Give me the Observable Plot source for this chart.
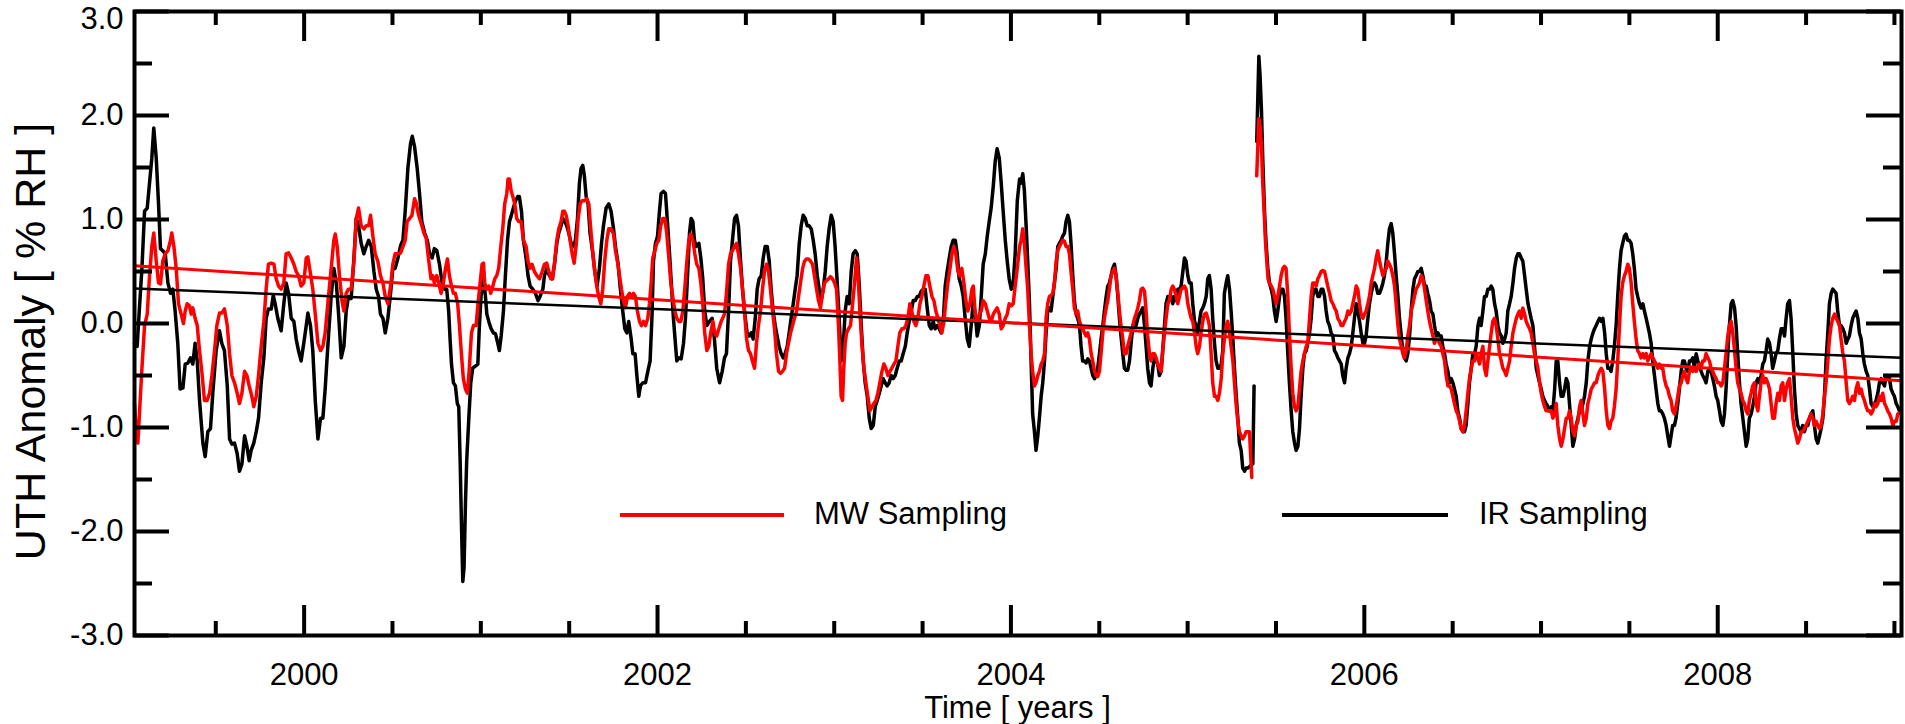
<!DOCTYPE html>
<html>
<head>
<meta charset="utf-8">
<script src="https://cdn.jsdelivr.net/npm/d3@7"></script>
<script src="https://cdn.jsdelivr.net/npm/@observablehq/plot@0.6"></script>
<style>
  html, body { margin: 0; padding: 0; background: #fff; }
  #wrap { position: relative; width: 1905px; height: 724px; overflow: hidden; font-family: "Liberation Sans", Arial, Helvetica, sans-serif; }
  .lg-line { position: absolute; height: 4px; }
  .lg-text { position: absolute; font-size: 31px; line-height: 31px; color: #000; white-space: nowrap; }
  #xtitle { position: absolute; left: 134px; width: 1767px; top: 697px; height: 22px; font-size: 31px; line-height: 22px; text-align: center; color: #000; white-space: nowrap; }
</style>
</head>
<body>
<div id="wrap"></div>
<script>
// ---------- data (decimal year, UTH anomaly % RH) ----------
const irSampling = [
[1999.040,-0.19],[1999.055,-0.22],[1999.068,0.15],[1999.082,0.53],[1999.097,1.08],[1999.112,1.11],[1999.125,1.35],[1999.138,1.59],[1999.149,1.88],[1999.163,1.59],[1999.176,1.15],[1999.187,0.72],[1999.200,0.70],[1999.214,0.67],[1999.229,0.39],[1999.244,0.29],[1999.257,0.33],[1999.270,0.12],[1999.285,-0.19],[1999.298,-0.63],[1999.314,-0.62],[1999.327,-0.39],[1999.342,-0.38],[1999.357,-0.33],[1999.370,-0.39],[1999.383,-0.19],[1999.395,-0.36],[1999.408,-0.74],[1999.427,-1.15],[1999.440,-1.28],[1999.455,-1.04],[1999.470,-1.01],[1999.483,-0.67],[1999.502,-0.26],[1999.521,-0.07],[1999.534,-0.19],[1999.549,-0.26],[1999.565,-0.60],[1999.578,-1.11],[1999.591,-1.16],[1999.606,-1.15],[1999.621,-1.25],[1999.634,-1.42],[1999.648,-1.35],[1999.663,-1.08],[1999.676,-1.18],[1999.689,-1.32],[1999.700,-1.22],[1999.715,-1.15],[1999.729,-1.04],[1999.742,-0.91],[1999.757,-0.57],[1999.772,-0.33],[1999.785,0.05],[1999.798,0.14],[1999.814,0.14],[1999.825,0.27],[1999.836,0.19],[1999.851,0.05],[1999.870,-0.07],[1999.885,0.19],[1999.898,0.39],[1999.912,0.29],[1999.927,0.05],[1999.942,0.02],[1999.955,-0.15],[1999.968,-0.26],[1999.983,-0.36],[1999.998,-0.19],[2000.012,-0.02],[2000.021,0.10],[2000.036,-0.02],[2000.049,-0.26],[2000.063,-0.74],[2000.078,-1.11],[2000.093,-0.91],[2000.106,-0.91],[2000.119,-0.63],[2000.134,-0.22],[2000.153,0.26],[2000.168,0.53],[2000.182,0.39],[2000.195,0.09],[2000.210,-0.33],[2000.225,-0.22],[2000.238,0.12],[2000.251,0.26],[2000.266,0.24],[2000.282,0.63],[2000.295,1.01],[2000.308,0.94],[2000.323,0.77],[2000.338,0.67],[2000.351,0.74],[2000.365,0.80],[2000.380,0.74],[2000.395,0.50],[2000.408,0.33],[2000.421,0.26],[2000.432,0.09],[2000.446,0.05],[2000.459,-0.09],[2000.474,0.05],[2000.489,0.29],[2000.502,0.53],[2000.515,0.53],[2000.531,0.63],[2000.546,0.75],[2000.559,0.80],[2000.572,1.08],[2000.587,1.49],[2000.602,1.73],[2000.612,1.80],[2000.625,1.70],[2000.640,1.49],[2000.653,1.25],[2000.666,0.98],[2000.682,0.87],[2000.697,0.80],[2000.710,0.67],
[2000.724,0.63],[2000.737,0.72],[2000.751,0.70],[2000.766,0.57],[2000.781,0.39],[2000.794,0.33],[2000.807,0.33],[2000.818,0.12],[2000.826,-0.15],[2000.834,-0.39],[2000.845,-0.57],[2000.856,-0.60],[2000.867,-0.77],[2000.875,-0.80],[2000.883,-1.32],[2000.890,-1.90],[2000.898,-2.48],[2000.905,-2.35],[2000.913,-1.73],[2000.920,-1.32],[2000.932,-0.91],[2000.943,-0.57],[2000.954,-0.43],[2000.969,-0.41],[2000.983,-0.39],[2000.992,-0.02],[2001.001,0.26],[2001.015,0.46],[2001.026,0.26],[2001.034,0.09],[2001.045,0.02],[2001.058,-0.05],[2001.071,-0.09],[2001.083,-0.10],[2001.096,-0.19],[2001.105,-0.26],[2001.115,-0.12],[2001.128,0.12],[2001.139,0.46],[2001.151,0.80],[2001.162,0.98],[2001.171,1.03],[2001.184,1.11],[2001.196,1.18],[2001.209,1.22],[2001.218,1.22],[2001.230,1.08],[2001.241,0.80],[2001.256,0.63],[2001.267,0.46],[2001.279,0.36],[2001.294,0.33],[2001.309,0.29],[2001.324,0.22],[2001.335,0.26],[2001.351,0.33],[2001.360,0.46],[2001.373,0.53],[2001.388,0.46],[2001.403,0.43],[2001.417,0.57],[2001.430,0.77],[2001.441,0.87],[2001.454,0.94],[2001.464,1.01],[2001.473,0.99],[2001.486,0.94],[2001.498,0.87],[2001.511,0.77],[2001.524,0.74],[2001.535,0.80],[2001.547,1.01],[2001.558,1.35],[2001.567,1.49],[2001.577,1.52],[2001.586,1.42],[2001.596,1.22],[2001.607,1.15],[2001.618,0.87],[2001.634,0.67],[2001.645,0.50],[2001.658,0.36],[2001.671,0.53],[2001.683,0.77],[2001.694,0.94],[2001.709,1.11],[2001.724,1.15],[2001.737,1.08],[2001.751,0.91],[2001.762,0.74],[2001.777,0.57],[2001.788,0.36],[2001.803,0.12],[2001.815,-0.05],[2001.826,-0.09],[2001.837,0.02],[2001.851,-0.15],[2001.860,-0.29],[2001.873,-0.29],[2001.883,-0.50],[2001.894,-0.70],[2001.903,-0.60],[2001.917,-0.57],[2001.932,-0.57],[2001.945,-0.46],[2001.958,-0.36],[2001.969,0.09],[2001.977,0.60],[2001.988,0.77],[2002.000,0.84],[2002.011,1.08],[2002.020,1.25],[2002.034,1.27],[2002.045,1.25],[2002.056,0.98],[2002.068,0.67],[2002.079,0.36],[2002.090,0.05],[2002.101,-0.19],[2002.109,-0.36],[2002.120,-0.33],[2002.134,-0.34],[2002.147,-0.19],[2002.158,0.05],[2002.171,0.50],[2002.181,0.87],[2002.190,1.01],[2002.200,0.98],[2002.209,0.80],[2002.218,0.74],[2002.234,0.77],[2002.245,0.63],[2002.256,0.43],[2002.267,0.12],[2002.279,-0.02],[2002.294,0.02],[2002.309,0.05],[2002.322,-0.15],[2002.335,-0.43],[2002.351,-0.57],[2002.366,-0.46],[2002.379,-0.33],
[2002.390,-0.29],[2002.402,0.12],[2002.413,0.60],[2002.424,0.80],[2002.436,1.01],[2002.447,1.04],[2002.458,0.94],[2002.470,0.60],[2002.481,0.33],[2002.492,0.12],[2002.507,-0.09],[2002.519,-0.12],[2002.530,-0.09],[2002.541,-0.15],[2002.553,0.05],[2002.564,0.33],[2002.575,0.43],[2002.587,0.46],[2002.598,0.63],[2002.609,0.74],[2002.621,0.74],[2002.632,0.60],[2002.643,0.33],[2002.654,0.12],[2002.666,-0.02],[2002.677,-0.12],[2002.688,-0.22],[2002.700,-0.29],[2002.711,-0.33],[2002.722,-0.29],[2002.734,-0.22],[2002.745,-0.09],[2002.756,0.05],[2002.768,0.19],[2002.779,0.33],[2002.790,0.46],[2002.802,0.77],[2002.813,0.94],[2002.824,1.04],[2002.836,1.01],[2002.847,0.94],[2002.858,0.94],[2002.870,0.91],[2002.881,0.80],[2002.892,0.67],[2002.904,0.46],[2002.915,0.33],[2002.926,0.22],[2002.938,0.33],[2002.949,0.50],[2002.960,0.74],[2002.971,0.91],[2002.983,1.04],[2002.994,0.98],[2003.005,0.74],[2003.017,0.39],[2003.028,0.05],[2003.039,-0.36],[2003.051,-0.22],[2003.062,0.12],[2003.073,0.26],[2003.085,0.19],[2003.096,0.50],[2003.107,0.67],[2003.119,0.70],[2003.130,0.67],[2003.141,0.39],[2003.153,-0.02],[2003.164,-0.36],[2003.175,-0.57],[2003.187,-0.70],[2003.198,-0.91],[2003.209,-1.01],[2003.221,-0.98],[2003.232,-0.80],[2003.243,-0.74],[2003.255,-0.67],[2003.266,-0.60],[2003.277,-0.53],[2003.288,-0.57],[2003.300,-0.60],[2003.311,-0.57],[2003.322,-0.50],[2003.334,-0.53],[2003.345,-0.50],[2003.356,-0.43],[2003.368,-0.36],[2003.379,-0.36],[2003.390,-0.29],[2003.402,-0.22],[2003.413,-0.09],[2003.424,0.02],[2003.436,0.12],[2003.447,0.22],[2003.458,0.22],[2003.470,0.26],[2003.481,0.26],[2003.492,0.31],[2003.504,0.33],[2003.515,0.33],[2003.526,0.15],[2003.538,-0.02],[2003.549,-0.05],[2003.560,0.02],[2003.571,-0.05],[2003.583,-0.02],[2003.594,-0.05],[2003.605,-0.09],[2003.617,0.02],[2003.628,0.36],[2003.639,0.50],[2003.651,0.63],[2003.662,0.74],[2003.673,0.80],[2003.685,0.80],[2003.696,0.67],[2003.707,0.43],[2003.719,0.36],[2003.730,0.26],[2003.741,0.05],[2003.753,-0.15],[2003.764,-0.22],[2003.775,-0.02],[2003.787,0.22],[2003.798,0.09],[2003.809,-0.12],[2003.821,-0.02],[2003.832,0.26],[2003.843,0.57],[2003.855,0.67],[2003.866,0.84],[2003.877,0.98],[2003.888,1.11],[2003.900,1.32],[2003.911,1.56],[2003.922,1.68],[2003.934,1.59],[2003.945,1.35],[2003.956,1.08],[2003.968,0.80],[2003.979,0.60],[2003.990,0.43],[2004.002,0.33],[2004.013,0.39],[2004.024,0.67],[2004.036,1.18],[2004.049,1.39],
[2004.057,1.35],[2004.067,1.44],[2004.076,1.28],[2004.086,0.94],[2004.095,0.60],[2004.105,0.19],[2004.114,-0.36],[2004.123,-0.87],[2004.133,-1.04],[2004.142,-1.22],[2004.152,-1.08],[2004.161,-0.91],[2004.171,-0.70],[2004.180,-0.57],[2004.190,-0.36],[2004.199,-0.09],[2004.208,0.12],[2004.218,0.15],[2004.227,0.12],[2004.237,0.26],[2004.246,0.39],[2004.256,0.53],[2004.265,0.74],[2004.274,0.77],[2004.284,0.80],[2004.293,0.84],[2004.303,0.87],[2004.312,0.98],[2004.322,1.04],[2004.331,0.98],[2004.340,0.77],[2004.350,0.46],[2004.359,0.22],[2004.369,0.09],[2004.378,0.05],[2004.388,-0.02],[2004.397,-0.22],[2004.406,-0.36],[2004.416,-0.36],[2004.425,-0.38],[2004.435,-0.34],[2004.444,-0.36],[2004.454,-0.43],[2004.463,-0.50],[2004.473,-0.53],[2004.482,-0.50],[2004.491,-0.43],[2004.501,-0.29],[2004.510,-0.15],[2004.520,-0.02],[2004.529,0.12],[2004.539,0.26],[2004.548,0.36],[2004.557,0.39],[2004.567,0.46],[2004.576,0.53],[2004.586,0.57],[2004.595,0.46],[2004.605,0.26],[2004.614,0.05],[2004.623,-0.12],[2004.633,-0.29],[2004.642,-0.43],[2004.652,-0.45],[2004.661,-0.45],[2004.671,-0.36],[2004.680,-0.19],[2004.690,-0.02],[2004.699,0.02],[2004.708,-0.02],[2004.718,0.05],[2004.727,0.09],[2004.737,0.12],[2004.746,0.15],[2004.756,-0.02],[2004.765,-0.22],[2004.774,-0.43],[2004.784,-0.57],[2004.793,-0.60],[2004.803,-0.43],[2004.812,-0.33],[2004.822,-0.36],[2004.831,-0.39],[2004.840,-0.50],[2004.850,-0.46],[2004.859,-0.26],[2004.869,-0.02],[2004.878,0.19],[2004.888,0.26],[2004.897,0.22],[2004.907,0.26],[2004.916,0.19],[2004.925,0.26],[2004.935,0.22],[2004.944,0.33],[2004.954,0.33],[2004.963,0.36],[2004.973,0.50],[2004.982,0.63],[2004.991,0.60],[2005.001,0.46],[2005.010,0.39],[2005.020,0.39],[2005.029,0.19],[2005.039,0.02],[2005.048,-0.02],[2005.057,-0.09],[2005.067,0.02],[2005.076,0.12],[2005.086,0.15],[2005.095,0.19],[2005.105,0.26],[2005.114,0.43],[2005.123,0.46],[2005.133,0.33],[2005.142,0.05],[2005.152,-0.19],[2005.161,-0.36],[2005.171,-0.43],[2005.180,-0.43],[2005.190,-0.39],[2005.199,-0.26],[2005.208,0.29],[2005.218,0.39],[2005.227,0.46],[2005.237,0.33],[2005.246,0.12],[2005.256,-0.15],[2005.265,-0.43],[2005.274,-0.67],[2005.284,-0.91],[2005.293,-1.15],[2005.303,-1.22],[2005.312,-1.39],[2005.322,-1.42],[2005.331,-1.39],[2005.340,-1.39],[2005.354,-1.37],[2005.369,-1.35],[2005.376,-0.60],
[2005.383,null],
[2005.391,1.75],[2005.403,2.57],[2005.410,2.38],[2005.418,2.04],[2005.425,1.59],[2005.435,1.08],[2005.444,0.77],[2005.454,0.53],[2005.463,0.39],[2005.473,0.33],[2005.482,0.26],[2005.491,0.12],[2005.501,0.02],[2005.510,0.12],[2005.520,0.26],[2005.529,0.33],[2005.539,0.33],[2005.548,0.26],[2005.557,0.05],[2005.567,-0.29],[2005.576,-0.57],[2005.586,-0.84],[2005.595,-1.04],[2005.605,-1.15],[2005.614,-1.22],[2005.624,-1.18],[2005.633,-1.01],[2005.642,-0.70],[2005.652,-0.43],[2005.661,-0.29],[2005.671,-0.26],[2005.680,-0.19],[2005.690,-0.09],[2005.699,0.05],[2005.708,0.26],[2005.718,0.33],
[2005.727,0.33],[2005.737,0.26],[2005.746,0.26],[2005.756,0.33],[2005.765,0.33],[2005.775,0.26],[2005.784,0.12],[2005.793,0.02],[2005.803,-0.02],[2005.812,-0.09],[2005.822,-0.12],[2005.831,-0.26],[2005.841,-0.29],[2005.850,-0.33],[2005.860,-0.36],[2005.869,-0.39],[2005.878,-0.50],[2005.888,-0.57],[2005.897,-0.43],[2005.907,-0.33],[2005.916,-0.29],[2005.926,-0.22],[2005.935,-0.09],[2005.944,0.05],[2005.954,0.19],[2005.963,0.12],[2005.973,0.02],[2005.982,-0.09],[2005.992,-0.19],[2006.001,-0.19],[2006.010,-0.12],[2006.020,0.05],[2006.029,0.19],[2006.039,0.29],[2006.048,0.36],[2006.058,0.39],[2006.067,0.36],[2006.076,0.29],[2006.086,0.29],[2006.095,0.33],[2006.105,0.39],[2006.114,0.46],[2006.124,0.60],[2006.133,0.77],[2006.142,0.91],[2006.152,0.96],[2006.161,0.87],[2006.171,0.67],[2006.180,0.46],[2006.190,0.26],[2006.199,0.05],[2006.209,-0.12],[2006.218,-0.26],[2006.227,-0.33],[2006.237,-0.36],[2006.246,-0.29],[2006.256,-0.12],[2006.265,0.12],[2006.275,0.33],[2006.284,0.43],[2006.293,0.46],[2006.303,0.50],[2006.312,0.50],[2006.322,0.53],[2006.331,0.46],[2006.341,0.36],[2006.350,0.36],[2006.359,0.29],[2006.369,0.22],[2006.378,0.12],[2006.388,0.09],[2006.397,-0.02],[2006.407,-0.12],[2006.416,-0.09],[2006.425,-0.12],[2006.435,-0.12],[2006.444,-0.22],[2006.454,-0.29],[2006.463,-0.39],[2006.473,-0.46],[2006.482,-0.57],[2006.492,-0.53],[2006.501,-0.57],[2006.510,-0.63],[2006.520,-0.70],[2006.529,-0.84],[2006.539,-0.91],[2006.548,-1.01],[2006.558,-1.04],[2006.567,-1.04],[2006.576,-0.98],[2006.586,-0.77],[2006.595,-0.57],[2006.605,-0.43],[2006.614,-0.29],[2006.624,-0.29],[2006.633,-0.22],[2006.643,-0.02],[2006.652,0.05],[2006.661,-0.02],[2006.671,0.12],[2006.680,0.26],[2006.690,0.26],[2006.699,0.33],[2006.709,0.33],[2006.718,0.36],[2006.727,0.33],[2006.737,0.19],[2006.746,0.12],[2006.756,-0.02],[2006.765,-0.09],[2006.775,-0.12],[2006.784,-0.19],[2006.794,-0.15],[2006.803,-0.09],[2006.812,0.12],[2006.822,0.19],[2006.831,0.26],[2006.841,0.39],[2006.850,0.53],[2006.860,0.63],[2006.869,0.67],[2006.878,0.67],[2006.888,0.63],[2006.897,0.60],[2006.907,0.46],[2006.916,0.33],[2006.926,0.19],[2006.935,0.12],[2006.944,0.05],[2006.954,-0.02],[2006.963,-0.22],[2006.973,-0.43],[2006.982,-0.50],[2006.992,-0.57],[2007.001,-0.63],[2007.010,-0.70],[2007.020,-0.74],[2007.029,-0.77],[2007.039,-0.80],[2007.048,-0.84],[2007.058,-0.80],[2007.067,-0.84],[2007.077,-0.63],[2007.086,-0.36],[2007.095,-0.36],[2007.105,-0.57],[2007.114,-0.70],[2007.124,-0.70],[2007.133,-0.63],[2007.143,-0.53],[2007.152,-0.57],[2007.161,-0.77],[2007.171,-0.98],[2007.180,-1.18],[2007.190,-1.11],[2007.199,-0.98],[2007.209,-0.91],[2007.218,-0.84],[2007.227,-0.84],[2007.237,-0.77],[2007.246,-0.70],[2007.256,-0.57],[2007.265,-0.36],[2007.275,-0.22],[2007.284,-0.15],[2007.294,-0.09],[2007.303,-0.05],[2007.312,-0.02],[2007.322,0.02],[2007.331,0.05],[2007.341,0.02],[2007.350,0.05],[2007.360,-0.09],[2007.369,-0.29],[2007.378,-0.43],[2007.388,-0.43],
[2007.396,-0.46],[2007.406,-0.36],[2007.415,-0.22],[2007.425,-0.02],[2007.434,0.26],[2007.444,0.53],[2007.453,0.70],[2007.462,0.77],[2007.472,0.84],[2007.481,0.86],[2007.491,0.80],[2007.500,0.80],[2007.510,0.77],[2007.519,0.67],[2007.528,0.53],[2007.538,0.33],[2007.547,0.26],[2007.557,0.19],[2007.566,0.15],[2007.576,0.19],[2007.585,0.12],[2007.595,0.05],[2007.604,-0.02],[2007.613,-0.09],[2007.623,-0.19],[2007.632,-0.36],[2007.642,-0.50],[2007.651,-0.63],[2007.661,-0.77],[2007.670,-0.84],[2007.679,-0.84],[2007.689,-0.87],[2007.698,-0.91],[2007.708,-0.98],[2007.717,-1.08],[2007.727,-1.18],[2007.736,-1.08],[2007.745,-0.98],[2007.755,-0.98],[2007.764,-0.91],[2007.774,-0.77],[2007.783,-0.63],[2007.793,-0.46],[2007.802,-0.36],[2007.811,-0.36],[2007.821,-0.43],[2007.830,-0.46],[2007.840,-0.36],[2007.849,-0.36],[2007.859,-0.33],[2007.868,-0.43],[2007.878,-0.29],[2007.887,-0.36],[2007.896,-0.39],[2007.906,-0.46],[2007.915,-0.50],[2007.925,-0.53],[2007.934,-0.57],[2007.944,-0.46],[2007.953,-0.43],[2007.962,-0.46],[2007.972,-0.53],[2007.981,-0.60],[2007.991,-0.70],[2008.000,-0.74],[2008.010,-0.84],[2008.019,-0.94],[2008.029,-0.98],[2008.038,-0.87],[2008.047,-0.63],[2008.057,-0.29],[2008.066,-0.02],[2008.076,0.19],[2008.085,0.22],[2008.095,0.15],[2008.104,-0.02],[2008.113,-0.29],[2008.123,-0.57],[2008.132,-0.77],[2008.142,-0.91],[2008.151,-1.04],[2008.161,-1.18],[2008.170,-1.11],[2008.179,-0.91],[2008.189,-0.87],[2008.198,-0.80],[2008.208,-0.70],[2008.217,-0.57],[2008.227,-0.53],[2008.236,-0.57],[2008.245,-0.50],[2008.255,-0.39],[2008.264,-0.36],[2008.274,-0.26],[2008.283,-0.15],[2008.293,-0.19],[2008.302,-0.29],[2008.311,-0.43],[2008.321,-0.36],[2008.330,-0.29],[2008.340,-0.26],[2008.349,-0.15],[2008.359,-0.05],[2008.368,-0.05],[2008.378,-0.12],[2008.387,0.05],[2008.396,0.19],[2008.406,0.22],[2008.415,0.05],[2008.425,-0.29],[2008.434,-0.63],[2008.444,-0.87],[2008.453,-0.98],[2008.462,-1.01],[2008.472,-1.04],[2008.481,-0.98],[2008.491,-1.04],[2008.500,-0.98],[2008.510,-0.98],[2008.519,-0.91],[2008.528,-0.87],[2008.538,-0.84],[2008.547,-0.98],[2008.557,-1.11],[2008.566,-1.15],[2008.576,-1.08],[2008.585,-1.01],[2008.595,-0.91],[2008.604,-0.70],[2008.613,-0.36],[2008.623,-0.09],[2008.632,0.19],[2008.642,0.29],[2008.651,0.33],[2008.661,0.31],[2008.670,0.29],[2008.679,0.12],[2008.689,-0.02],[2008.698,-0.02],[2008.708,-0.05],[2008.717,-0.09],[2008.727,-0.19],[2008.736,-0.15],[2008.745,-0.12],[2008.755,-0.02],[2008.764,0.05],[2008.774,0.09],[2008.783,0.12],[2008.793,0.05],[2008.802,-0.09],[2008.812,-0.15],[2008.821,-0.29],[2008.830,-0.39],[2008.840,-0.46],[2008.849,-0.50],[2008.859,-0.63],[2008.868,-0.77],[2008.878,-0.80],[2008.887,-0.77],[2008.896,-0.74],[2008.906,-0.67],[2008.915,-0.57],[2008.925,-0.53],[2008.934,-0.57],[2008.944,-0.60],[2008.953,-0.50],[2008.962,-0.50],[2008.972,-0.53],[2008.981,-0.63],[2008.991,-0.67],[2009.000,-0.70],[2009.010,-0.77],[2009.019,-0.80],[2009.028,-0.84]
];

const mwSampling = [
[1999.040,-0.77],[1999.049,-1.01],[1999.059,-1.15],[1999.068,-0.87],[1999.082,-0.43],[1999.097,-0.02],[1999.112,0.09],[1999.125,0.46],[1999.138,0.74],[1999.149,0.87],[1999.163,0.60],[1999.176,0.39],[1999.187,0.38],[1999.200,0.60],[1999.214,0.67],[1999.229,0.70],[1999.244,0.80],[1999.251,0.87],[1999.263,0.74],[1999.276,0.53],[1999.289,0.19],[1999.304,0.09],[1999.317,0.00],[1999.327,0.12],[1999.338,0.19],[1999.351,0.17],[1999.361,0.09],[1999.370,0.15],[1999.383,0.05],[1999.395,-0.02],[1999.408,-0.26],[1999.421,-0.46],[1999.436,-0.74],[1999.451,-0.74],[1999.465,-0.67],[1999.478,-0.50],[1999.493,-0.26],[1999.506,-0.02],[1999.521,0.10],[1999.534,0.10],[1999.549,0.14],[1999.565,-0.02],[1999.578,-0.29],[1999.591,-0.50],[1999.606,-0.57],[1999.621,-0.67],[1999.634,-0.77],[1999.648,-0.67],[1999.663,-0.46],[1999.676,-0.50],[1999.689,-0.60],[1999.704,-0.70],[1999.715,-0.80],[1999.729,-0.70],[1999.742,-0.50],[1999.757,-0.22],[1999.772,0.02],[1999.785,0.33],[1999.798,0.57],[1999.814,0.58],[1999.829,0.57],[1999.842,0.43],[1999.855,0.36],[1999.870,0.33],[1999.885,0.39],[1999.898,0.67],[1999.912,0.68],[1999.927,0.63],[1999.942,0.57],[1999.955,0.50],[1999.968,0.46],[1999.983,0.36],[1999.998,0.39],[2000.012,0.63],[2000.021,0.64],[2000.034,0.50],[2000.049,0.33],[2000.063,0.09],[2000.078,-0.19],[2000.093,-0.26],[2000.106,-0.22],[2000.119,-0.09],[2000.134,0.19],[2000.153,0.53],[2000.168,0.80],[2000.176,0.86],[2000.187,0.74],[2000.200,0.46],[2000.214,0.22],[2000.225,0.12],[2000.238,0.29],[2000.251,0.33],[2000.266,0.33],[2000.282,0.60],[2000.295,1.01],[2000.308,1.11],[2000.323,0.94],[2000.338,0.91],[2000.351,0.94],[2000.365,0.94],[2000.376,1.04],[2000.389,0.84],[2000.402,0.67],[2000.417,0.60],[2000.432,0.46],[2000.446,0.39],[2000.459,0.26],[2000.474,0.19],[2000.489,0.36],[2000.502,0.57],[2000.515,0.67],[2000.531,0.67],[2000.546,0.68],[2000.559,0.74],[2000.572,0.80],[2000.583,0.98],[2000.597,1.01],[2000.610,1.04],[2000.625,1.20],[2000.634,1.16],[2000.648,1.04],[2000.663,0.96],[2000.678,0.87],[2000.691,0.82],[2000.704,0.62],
[2000.718,0.43],[2000.728,0.46],[2000.737,0.39],[2000.751,0.46],[2000.762,0.39],[2000.775,0.29],[2000.788,0.39],[2000.800,0.53],[2000.811,0.62],[2000.822,0.46],[2000.834,0.36],[2000.845,0.29],[2000.856,0.29],[2000.869,0.19],[2000.879,-0.02],[2000.890,-0.29],[2000.901,-0.53],[2000.913,-0.63],[2000.924,-0.67],[2000.935,-0.43],[2000.947,-0.09],[2000.958,-0.02],[2000.973,-0.02],[2000.984,0.19],[2000.996,0.39],[2001.007,0.57],[2001.015,0.58],[2001.022,0.39],[2001.034,0.33],[2001.045,0.36],[2001.056,0.29],[2001.068,0.36],[2001.079,0.43],[2001.090,0.46],[2001.101,0.53],[2001.113,0.74],[2001.124,0.91],[2001.135,1.15],[2001.147,1.25],[2001.154,1.39],[2001.162,1.39],[2001.171,1.28],[2001.181,1.22],[2001.192,1.15],[2001.203,1.01],[2001.215,0.98],[2001.228,0.98],[2001.241,0.80],[2001.256,0.74],[2001.267,0.60],[2001.279,0.53],[2001.290,0.57],[2001.303,0.50],[2001.317,0.46],[2001.332,0.43],[2001.347,0.50],[2001.360,0.57],[2001.373,0.58],[2001.385,0.50],[2001.396,0.43],[2001.407,0.43],[2001.418,0.60],[2001.430,0.80],[2001.441,0.91],[2001.454,0.98],[2001.464,1.08],[2001.473,1.08],[2001.483,1.04],[2001.494,0.94],[2001.505,0.80],[2001.517,0.67],[2001.528,0.58],[2001.539,0.74],[2001.551,1.01],[2001.562,1.15],[2001.573,1.18],[2001.586,1.18],[2001.600,1.20],[2001.611,1.15],[2001.622,0.91],[2001.634,0.67],[2001.645,0.50],[2001.656,0.36],[2001.667,0.26],[2001.679,0.19],[2001.690,0.33],[2001.701,0.60],[2001.713,0.80],[2001.724,0.91],[2001.737,0.91],[2001.751,0.86],[2001.762,0.70],[2001.773,0.60],[2001.785,0.46],[2001.796,0.33],[2001.807,0.22],[2001.818,0.15],[2001.830,0.26],[2001.841,0.29],[2001.852,0.26],[2001.864,0.29],[2001.875,0.26],[2001.886,0.12],[2001.898,0.02],[2001.909,-0.02],[2001.920,0.02],[2001.932,-0.02],[2001.945,0.05],[2001.954,0.19],[2001.964,0.39],[2001.973,0.63],[2001.985,0.70],[2001.996,0.77],[2002.007,0.80],[2002.018,0.94],[2002.030,1.01],[2002.041,1.01],[2002.052,0.87],[2002.064,0.63],[2002.075,0.39],[2002.086,0.26],[2002.098,0.12],[2002.109,0.05],[2002.120,0.02],[2002.132,0.02],[2002.143,0.12],[2002.154,0.33],[2002.166,0.60],[2002.177,0.80],[2002.188,0.86],[2002.200,0.80],[2002.211,0.67],[2002.222,0.57],[2002.234,0.53],[2002.245,0.39],[2002.256,0.19],[2002.267,-0.09],[2002.279,-0.26],[2002.290,-0.22],[2002.301,-0.09],[2002.313,0.02],[2002.324,-0.09],[2002.335,-0.12],[2002.347,-0.05],[2002.360,0.02],[2002.379,0.09],
[2002.390,0.29],[2002.402,0.57],[2002.413,0.67],[2002.424,0.70],[2002.436,0.74],[2002.447,0.77],[2002.458,0.67],[2002.470,0.53],[2002.481,0.33],[2002.492,0.12],[2002.504,-0.15],[2002.515,-0.26],[2002.526,-0.29],[2002.537,-0.36],[2002.549,-0.43],[2002.560,-0.19],[2002.571,-0.02],[2002.583,0.12],[2002.594,0.33],[2002.605,0.50],[2002.617,0.57],[2002.628,0.50],[2002.639,0.33],[2002.651,0.12],[2002.662,-0.05],[2002.673,-0.29],[2002.685,-0.46],[2002.696,-0.48],[2002.707,-0.46],[2002.719,-0.43],[2002.730,-0.29],[2002.741,-0.19],[2002.753,-0.09],[2002.764,-0.02],[2002.775,0.05],[2002.787,0.12],[2002.798,0.26],[2002.809,0.39],[2002.821,0.53],[2002.832,0.60],[2002.843,0.62],[2002.854,0.62],[2002.866,0.60],[2002.877,0.57],[2002.888,0.46],[2002.900,0.33],[2002.911,0.22],[2002.922,0.15],[2002.934,0.29],[2002.945,0.39],[2002.956,0.41],[2002.968,0.43],[2002.979,0.45],[2002.990,0.43],[2003.002,0.39],[2003.013,0.33],[2003.024,-0.02],[2003.032,-0.36],[2003.039,-0.70],[2003.047,-0.74],[2003.054,-0.43],[2003.062,-0.19],[2003.070,-0.09],[2003.081,-0.05],[2003.092,-0.02],[2003.104,0.19],[2003.115,0.39],[2003.126,0.63],[2003.134,0.50],[2003.145,0.12],[2003.156,-0.19],[2003.168,-0.43],[2003.179,-0.57],[2003.190,-0.70],[2003.202,-0.84],[2003.213,-0.80],[2003.224,-0.77],[2003.236,-0.74],[2003.247,-0.67],[2003.258,-0.57],[2003.270,-0.46],[2003.281,-0.39],[2003.292,-0.43],[2003.304,-0.50],[2003.315,-0.46],[2003.326,-0.43],[2003.338,-0.39],[2003.349,-0.36],[2003.360,-0.22],[2003.371,-0.09],[2003.383,-0.05],[2003.394,-0.05],[2003.405,-0.02],[2003.417,0.05],[2003.428,0.19],[2003.439,0.12],[2003.451,0.02],[2003.462,-0.02],[2003.473,0.05],[2003.485,0.19],[2003.496,0.26],[2003.507,0.36],[2003.519,0.46],[2003.530,0.46],[2003.541,0.36],[2003.553,0.26],[2003.564,0.22],[2003.575,0.12],[2003.587,0.05],[2003.598,-0.02],[2003.609,-0.09],[2003.621,0.02],[2003.632,0.22],[2003.643,0.39],[2003.655,0.53],[2003.666,0.67],[2003.677,0.74],[2003.688,0.67],[2003.700,0.50],[2003.711,0.46],[2003.722,0.53],[2003.734,0.39],[2003.745,0.22],[2003.756,0.12],[2003.768,0.19],[2003.779,0.33],[2003.787,0.36],[2003.798,0.09],[2003.809,0.02],[2003.821,0.09],[2003.832,0.12],[2003.843,0.22],[2003.855,0.19],[2003.866,0.12],[2003.877,0.05],[2003.888,0.02],[2003.900,0.09],[2003.911,0.12],[2003.922,0.15],[2003.934,0.09],[2003.945,-0.05],[2003.956,-0.02],[2003.968,0.05],[2003.979,0.09],[2003.990,0.19],[2004.002,0.17],[2004.013,0.19],[2004.024,0.36],[2004.036,0.53],[2004.049,0.74],
[2004.057,0.80],[2004.067,0.91],[2004.076,0.77],[2004.086,0.53],[2004.095,0.33],[2004.105,-0.02],[2004.114,-0.29],[2004.123,-0.46],[2004.133,-0.60],[2004.142,-0.57],[2004.152,-0.50],[2004.161,-0.46],[2004.171,-0.39],[2004.180,-0.36],[2004.190,-0.29],[2004.199,0.05],[2004.208,0.19],[2004.218,0.26],[2004.227,0.27],[2004.237,0.29],[2004.246,0.39],[2004.256,0.60],[2004.265,0.70],[2004.274,0.74],[2004.284,0.77],[2004.293,0.80],[2004.303,0.79],[2004.312,0.74],[2004.322,0.74],[2004.331,0.67],[2004.340,0.50],[2004.350,0.33],[2004.359,0.15],[2004.369,0.09],[2004.378,0.12],[2004.388,0.02],[2004.397,-0.02],[2004.406,-0.05],[2004.416,-0.09],[2004.425,-0.12],[2004.435,-0.09],[2004.444,-0.15],[2004.454,-0.29],[2004.463,-0.36],[2004.473,-0.46],[2004.482,-0.50],[2004.491,-0.51],[2004.501,-0.46],[2004.510,-0.29],[2004.520,-0.09],[2004.529,0.05],[2004.539,0.15],[2004.548,0.22],[2004.557,0.33],[2004.567,0.46],[2004.576,0.50],[2004.586,0.53],[2004.595,0.46],[2004.605,0.29],[2004.614,0.12],[2004.623,-0.02],[2004.633,-0.15],[2004.642,-0.29],[2004.652,-0.29],[2004.661,-0.22],[2004.671,-0.15],[2004.680,-0.09],[2004.690,-0.02],[2004.699,0.05],[2004.708,0.09],[2004.718,0.15],[2004.727,0.22],[2004.737,0.33],[2004.746,0.34],[2004.756,0.31],[2004.765,0.12],[2004.774,-0.12],[2004.784,-0.29],[2004.793,-0.36],[2004.803,-0.29],[2004.812,-0.29],[2004.822,-0.33],[2004.831,-0.39],[2004.840,-0.43],[2004.850,-0.46],[2004.859,-0.26],[2004.869,-0.09],[2004.878,0.05],[2004.888,0.19],[2004.897,0.22],[2004.907,0.33],[2004.916,0.36],[2004.925,0.33],[2004.935,0.26],[2004.944,0.19],[2004.954,0.26],[2004.963,0.33],[2004.973,0.34],[2004.982,0.36],[2004.991,0.33],[2005.001,0.19],[2005.010,0.12],[2005.020,0.05],[2005.029,0.02],[2005.039,-0.09],[2005.048,-0.22],[2005.057,-0.29],[2005.067,-0.22],[2005.076,-0.09],[2005.086,0.02],[2005.095,0.09],[2005.105,0.10],[2005.114,0.05],[2005.123,-0.02],[2005.133,-0.29],[2005.142,-0.57],[2005.152,-0.70],[2005.161,-0.70],[2005.171,-0.74],[2005.180,-0.67],[2005.190,-0.53],[2005.199,-0.29],[2005.208,-0.15],[2005.218,-0.02],[2005.227,0.02],[2005.237,-0.09],[2005.246,-0.22],[2005.256,-0.36],[2005.265,-0.57],[2005.274,-0.77],[2005.284,-0.94],[2005.293,-1.04],[2005.303,-1.08],[2005.312,-1.11],[2005.322,-1.08],[2005.331,-1.04],[2005.340,-1.04],[2005.350,-1.04],[2005.363,-1.48],
[2005.380,null],
[2005.391,1.42],[2005.403,1.97],[2005.410,1.90],[2005.418,1.70],[2005.425,1.35],[2005.433,1.08],[2005.440,0.80],[2005.448,0.60],[2005.455,0.43],[2005.463,0.39],[2005.473,0.36],[2005.482,0.33],[2005.491,0.26],[2005.501,0.19],[2005.510,0.26],[2005.520,0.36],[2005.529,0.46],[2005.539,0.53],[2005.548,0.55],[2005.557,0.53],[2005.567,0.26],[2005.576,-0.09],[2005.586,-0.43],[2005.595,-0.67],[2005.605,-0.80],[2005.614,-0.84],[2005.624,-0.80],[2005.633,-0.63],[2005.642,-0.46],[2005.652,-0.36],[2005.661,-0.29],[2005.671,-0.22],[2005.680,-0.19],[2005.690,0.05],[2005.699,0.26],[2005.708,0.39],[2005.718,0.39],
[2005.727,0.36],[2005.737,0.43],[2005.746,0.46],[2005.756,0.50],[2005.765,0.51],[2005.775,0.50],[2005.784,0.43],[2005.793,0.36],[2005.803,0.29],[2005.812,0.22],[2005.822,0.19],[2005.831,0.15],[2005.841,0.12],[2005.850,0.05],[2005.860,0.02],[2005.869,-0.02],[2005.878,-0.02],[2005.888,0.02],[2005.897,0.05],[2005.907,0.12],[2005.916,0.09],[2005.926,0.12],[2005.935,0.19],[2005.944,0.26],[2005.954,0.36],[2005.963,0.33],[2005.973,0.19],[2005.982,0.09],[2005.992,0.05],[2006.001,0.09],[2006.010,0.12],[2006.020,0.19],[2006.029,0.26],[2006.039,0.39],[2006.048,0.46],[2006.058,0.53],[2006.067,0.63],[2006.076,0.70],[2006.086,0.60],[2006.095,0.53],[2006.105,0.46],[2006.114,0.50],[2006.124,0.53],[2006.133,0.60],[2006.142,0.57],[2006.152,0.53],[2006.161,0.46],[2006.171,0.36],[2006.180,0.19],[2006.190,-0.02],[2006.199,-0.15],[2006.209,-0.22],[2006.218,-0.29],[2006.227,-0.33],[2006.237,-0.26],[2006.246,-0.12],[2006.256,-0.02],[2006.265,0.12],[2006.275,0.19],[2006.284,0.26],[2006.293,0.33],[2006.303,0.36],[2006.312,0.39],[2006.322,0.46],[2006.331,0.43],[2006.341,0.33],[2006.350,0.22],[2006.359,0.12],[2006.369,0.02],[2006.378,-0.05],[2006.388,-0.12],[2006.397,-0.19],[2006.407,-0.15],[2006.416,-0.15],[2006.425,-0.19],[2006.435,-0.22],[2006.444,-0.29],[2006.454,-0.36],[2006.463,-0.50],[2006.473,-0.60],[2006.482,-0.60],[2006.492,-0.63],[2006.501,-0.70],[2006.510,-0.77],[2006.520,-0.84],[2006.529,-0.87],[2006.539,-0.94],[2006.548,-1.01],[2006.558,-1.04],[2006.567,-0.98],[2006.576,-0.84],[2006.586,-0.67],[2006.595,-0.53],[2006.605,-0.43],[2006.614,-0.36],[2006.624,-0.36],[2006.633,-0.29],[2006.643,-0.33],[2006.652,-0.39],[2006.661,-0.29],[2006.671,-0.22],[2006.680,-0.43],[2006.690,-0.50],[2006.699,-0.36],[2006.709,-0.22],[2006.718,-0.09],[2006.727,0.02],[2006.737,0.05],[2006.746,-0.02],[2006.756,-0.15],[2006.765,-0.29],[2006.775,-0.36],[2006.784,-0.43],[2006.794,-0.46],[2006.803,-0.50],[2006.812,-0.43],[2006.822,-0.36],[2006.831,-0.22],[2006.841,-0.09],[2006.850,-0.02],[2006.860,0.05],[2006.869,0.09],[2006.878,0.12],[2006.888,0.05],[2006.897,0.15],[2006.907,0.09],[2006.916,0.02],[2006.926,-0.02],[2006.935,-0.05],[2006.944,-0.09],[2006.954,-0.19],[2006.963,-0.29],[2006.973,-0.36],[2006.982,-0.43],[2006.992,-0.57],[2007.001,-0.67],[2007.010,-0.74],[2007.020,-0.80],[2007.029,-0.84],[2007.039,-0.84],[2007.048,-0.84],[2007.058,-0.84],[2007.067,-0.91],[2007.077,-0.87],[2007.086,-0.77],[2007.095,-0.98],[2007.105,-1.11],[2007.114,-1.18],[2007.124,-1.11],[2007.133,-1.01],[2007.143,-0.91],[2007.152,-0.91],[2007.161,-0.84],[2007.171,-0.91],[2007.180,-1.04],[2007.190,-1.08],[2007.199,-0.98],[2007.209,-0.94],[2007.218,-0.80],[2007.227,-0.74],[2007.237,-0.87],[2007.246,-0.98],[2007.256,-0.91],[2007.265,-0.77],[2007.275,-0.70],[2007.284,-0.63],[2007.294,-0.60],[2007.303,-0.57],[2007.312,-0.57],[2007.322,-0.50],[2007.331,-0.46],[2007.341,-0.43],[2007.350,-0.46],[2007.360,-0.63],[2007.369,-0.84],[2007.378,-0.98],[2007.388,-1.01],
[2007.396,-0.94],[2007.406,-0.91],[2007.415,-0.80],[2007.425,-0.63],[2007.434,-0.36],[2007.444,-0.02],[2007.453,0.26],[2007.462,0.39],[2007.472,0.46],[2007.481,0.50],[2007.491,0.57],[2007.500,0.53],[2007.510,0.39],[2007.519,0.19],[2007.528,0.02],[2007.538,-0.15],[2007.547,-0.26],[2007.557,-0.29],[2007.566,-0.33],[2007.576,-0.29],[2007.585,-0.33],[2007.595,-0.29],[2007.604,-0.36],[2007.613,-0.33],[2007.623,-0.29],[2007.632,-0.33],[2007.642,-0.36],[2007.651,-0.39],[2007.661,-0.43],[2007.670,-0.39],[2007.679,-0.43],[2007.689,-0.43],[2007.698,-0.53],[2007.708,-0.60],[2007.717,-0.63],[2007.727,-0.70],[2007.736,-0.74],[2007.745,-0.84],[2007.755,-0.87],[2007.764,-0.80],[2007.774,-0.70],[2007.783,-0.60],[2007.793,-0.57],[2007.802,-0.50],[2007.811,-0.46],[2007.821,-0.53],[2007.830,-0.57],[2007.840,-0.46],[2007.849,-0.43],[2007.859,-0.46],[2007.868,-0.43],[2007.878,-0.46],[2007.887,-0.43],[2007.896,-0.39],[2007.906,-0.43],[2007.915,-0.36],[2007.925,-0.36],[2007.934,-0.29],[2007.944,-0.33],[2007.953,-0.36],[2007.962,-0.43],[2007.972,-0.46],[2007.981,-0.50],[2007.991,-0.53],[2008.000,-0.57],[2008.010,-0.57],[2008.019,-0.60],[2008.029,-0.57],[2008.038,-0.43],[2008.047,-0.29],[2008.057,-0.12],[2008.066,-0.02],[2008.076,0.02],[2008.085,-0.09],[2008.095,-0.26],[2008.104,-0.43],[2008.113,-0.57],[2008.123,-0.63],[2008.132,-0.67],[2008.142,-0.74],[2008.151,-0.77],[2008.161,-0.84],[2008.170,-0.87],[2008.179,-0.74],[2008.189,-0.67],[2008.198,-0.60],[2008.208,-0.57],[2008.217,-0.77],[2008.227,-0.84],[2008.236,-0.70],[2008.245,-0.57],[2008.255,-0.50],[2008.264,-0.57],[2008.274,-0.53],[2008.283,-0.57],[2008.293,-0.63],[2008.302,-0.77],[2008.311,-0.91],[2008.321,-0.91],[2008.330,-0.77],[2008.340,-0.67],[2008.349,-0.74],[2008.359,-0.60],[2008.368,-0.57],[2008.378,-0.74],[2008.387,-0.63],[2008.396,-0.57],[2008.406,-0.53],[2008.415,-0.70],[2008.425,-0.91],[2008.434,-1.01],[2008.444,-1.08],[2008.453,-1.15],[2008.462,-1.11],[2008.472,-1.04],[2008.481,-1.04],[2008.491,-1.01],[2008.500,-0.98],[2008.510,-0.94],[2008.519,-0.91],[2008.528,-0.87],[2008.538,-0.91],[2008.547,-0.98],[2008.557,-0.94],[2008.566,-0.98],[2008.576,-1.01],[2008.585,-0.98],[2008.595,-0.87],[2008.604,-0.70],[2008.613,-0.57],[2008.623,-0.36],[2008.632,-0.15],[2008.642,-0.02],[2008.651,0.05],[2008.661,0.09],[2008.670,0.05],[2008.679,0.02],[2008.689,-0.02],[2008.698,-0.15],[2008.708,-0.29],[2008.717,-0.36],[2008.727,-0.57],[2008.736,-0.74],[2008.745,-0.77],[2008.755,-0.74],[2008.764,-0.70],[2008.774,-0.74],[2008.783,-0.63],[2008.793,-0.57],[2008.802,-0.67],[2008.812,-0.63],[2008.821,-0.70],[2008.830,-0.74],[2008.840,-0.80],[2008.849,-0.84],[2008.859,-0.84],[2008.868,-0.87],[2008.878,-0.84],[2008.887,-0.77],[2008.896,-0.80],[2008.906,-0.77],[2008.915,-0.70],[2008.925,-0.74],[2008.934,-0.67],[2008.944,-0.77],[2008.953,-0.80],[2008.962,-0.84],[2008.972,-0.87],[2008.981,-0.91],[2008.991,-0.98],[2009.000,-0.94],[2009.010,-0.94],[2009.019,-0.87],[2009.028,-0.86]
];

// linear trend lines (end points)
const trendYears = [1999.04, 2009.04];
const mwTrend = [0.555, -0.55];
const irTrend = [0.336, -0.33];

// axes
const xMajorTicks = [2000, 2002, 2004, 2006, 2008];
const xMinorTicks = [1999.5, 2000.5, 2001, 2001.5, 2002.5, 2003, 2003.5, 2004.5, 2005, 2005.5, 2006.5, 2007, 2007.5, 2008.5, 2009];
const yMajorTicks = [-3, -2, -1, 0, 1, 2, 3];
const yMinorTicks = [-2.5, -1.5, -0.5, 0.5, 1.5, 2.5];
const xDomain = [1999.04, 2009.04];
const yDomain = [-3, 3];
const xTitle = "Time [ years ]";
const yTitle = "UTH Anomaly [ % RH ]";
const legendItems = [
  {label: "MW Sampling", color: "#ff0000"},
  {label: "IR Sampling", color: "#000000"}
];

// ---------- layout ----------
const W = 1905, H = 724;
const mL = 134, mR = 4, mT = 11, mB = 89;
const iw = W - mL - mR;
const ih = H - mT - mB;
const font = '"Liberation Sans", Arial, Helvetica, sans-serif';

const mwTrendData = trendYears.map((t, i) => ({t, v: mwTrend[i]}));
const irTrendData = trendYears.map((t, i) => ({t, v: irTrend[i]}));
const yLabelTicks = yMajorTicks.filter(v => v < yDomain[1]);
const yTopTick = yMajorTicks.filter(v => v === yDomain[1]);

const chart = Plot.plot({
  width: W, height: H,
  marginLeft: mL, marginRight: mR, marginTop: mT, marginBottom: mB,
  style: {fontFamily: font, background: "white", color: "black", overflow: "visible"},
  x: {domain: xDomain},
  y: {domain: yDomain},
  marks: [
    Plot.line(irSampling, {x: d => d[0], y: d => d[1], stroke: "black", strokeWidth: 3.5}),
    Plot.line(mwSampling, {x: d => d[0], y: d => d[1], stroke: "#ff0000", strokeWidth: 3.5}),
    Plot.line(irTrendData, {x: "t", y: "v", stroke: "black", strokeWidth: 2.5}),
    Plot.line(mwTrendData, {x: "t", y: "v", stroke: "#ff0000", strokeWidth: 3}),
    // inward ticks (bottom / top)
    Plot.ruleX(xMajorTicks, {insetTop: ih - 30, stroke: "black", strokeWidth: 4}),
    Plot.ruleX(xMinorTicks, {insetTop: ih - 14, stroke: "black", strokeWidth: 4}),
    Plot.ruleX(xMajorTicks, {insetBottom: ih - 30, stroke: "black", strokeWidth: 4}),
    Plot.ruleX(xMinorTicks, {insetBottom: ih - 14, stroke: "black", strokeWidth: 4}),
    // inward ticks (left / right)
    Plot.ruleY(yMajorTicks, {insetRight: iw - 35, stroke: "black", strokeWidth: 4}),
    Plot.ruleY(yMinorTicks, {insetRight: iw - 18, stroke: "black", strokeWidth: 4}),
    Plot.ruleY(yMajorTicks, {insetLeft: iw - 35, stroke: "black", strokeWidth: 4}),
    Plot.ruleY(yMinorTicks, {insetLeft: iw - 18, stroke: "black", strokeWidth: 4}),
    Plot.frame({stroke: "black", strokeWidth: 4}),
    Plot.axisX({ticks: xMajorTicks, tickSize: 0, tickPadding: 27, tickFormat: d => String(d), fontSize: 31, label: null}),
    Plot.axisY({ticks: yLabelTicks, tickSize: 0, tickPadding: 11, tickFormat: d => d.toFixed(1), fontSize: 31, label: null}),
    Plot.axisY({ticks: yTopTick, tickSize: 0, tickPadding: 11, tickFormat: d => d.toFixed(1), fontSize: 31, label: null, dy: 8}),
    Plot.text([yTitle], {text: d => d, frameAnchor: "left", dx: -103, dy: 18, rotate: -90, textAnchor: "middle", lineAnchor: "middle", fontSize: 43})
  ]
});

const wrap = document.getElementById("wrap");
wrap.appendChild(chart);

// x-axis title (below the axis, centred on the plot area)
const xt = document.createElement("div");
xt.id = "xtitle";
xt.textContent = xTitle;
wrap.appendChild(xt);

// legend (inside the plot area, as in the original)
const legendPos = [
  {lineLeft: 620, lineWidth: 164, textLeft: 814, y: 515},
  {lineLeft: 1282, lineWidth: 166, textLeft: 1479, y: 515}
];
legendItems.forEach((item, i) => {
  const p = legendPos[i];
  const ln = document.createElement("div");
  ln.className = "lg-line";
  ln.style.left = p.lineLeft + "px";
  ln.style.top = (p.y - 2) + "px";
  ln.style.width = p.lineWidth + "px";
  ln.style.background = item.color;
  wrap.appendChild(ln);
  const tx = document.createElement("div");
  tx.className = "lg-text";
  tx.style.left = p.textLeft + "px";
  tx.style.top = (p.y - 17) + "px";
  tx.textContent = item.label;
  wrap.appendChild(tx);
});
</script>
</body>
</html>
